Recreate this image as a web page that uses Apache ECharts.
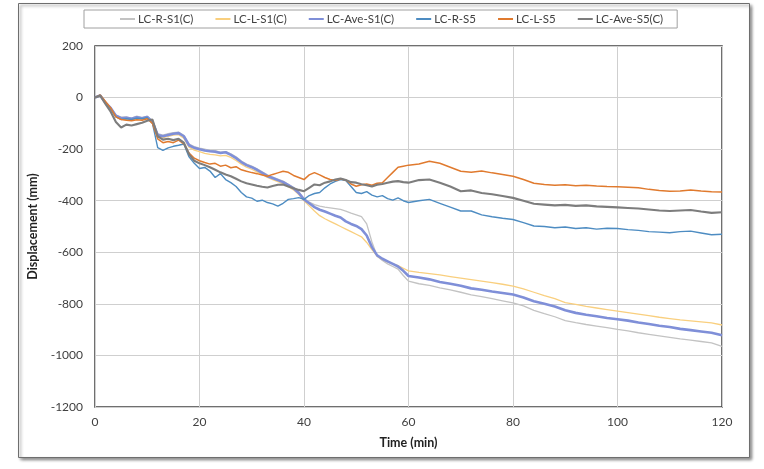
<!DOCTYPE html>
<html>
<head>
<meta charset="utf-8">
<script src="https://cdn.jsdelivr.net/npm/echarts@6/dist/echarts.min.js"></script>
<style>html,body{margin:0;padding:0;background:#fff;}#c{width:764px;height:469px;}</style>
</head>
<body>
<div id="c"></div>
<script>
const seriesNames = ['LC-R-S1(C)', 'LC-L-S1(C)', 'LC-Ave-S1(C)', 'LC-R-S5', 'LC-L-S5', 'LC-Ave-S5(C)'];
const time = [0,1,2,3,4,5,6,7,8,9,10,11,12,13,14,15,16,17,18,19,20,21,22,23,24,25,26,27,28,29,30,31,32,33,34,35,36,37,38,39,40,41,42,43,44,45,46,47,48,49,50,51,52,53,54,55,56,57,58,59,60,62,64,66,68,70,72,74,76,78,80,82,84,86,88,90,92,94,96,98,100,102,104,106,108,110,112,114,116,118,120];
const rS1 = [0,6,-18,-38,-68,-76,-75,-80,-72,-78,-72,-90,-140,-146,-140,-136,-134,-146,-180,-190,-196,-200,-205,-206,-212,-210,-218,-230,-246,-258,-266,-276,-288,-300,-308,-316,-324,-336,-348,-366,-392,
  -405,-415,-421,-425,-428,-431,-434,-440,-448,-455,-462,-490,-560,-615,-632,-645,-655,-665,-690,-712,
  -722,-728,-738,-746,-755,-765,-772,-780,-788,-796,-808,-825,-838,-850,-865,-873,-880,-886,-892,-899,-905,-912,-918,-924,-930,-936,-941,-946,-951,-965];
const lS1 = [0,5,-22,-44,-74,-84,-82,-86,-80,-84,-80,-100,-150,-156,-150,-146,-144,-158,-192,-204,-210,-216,-220,-222,-226,-224,-232,-244,-258,-270,-278,-288,-298,-310,-318,-326,-334,-346,-358,-376,-400,
  -420,-440,-458,-470,-480,-490,-500,-510,-520,-530,-540,-562,-590,-615,-628,-637,-645,-652,-662,-672,
  -678,-683,-688,-694,-700,-706,-712,-718,-724,-731,-742,-755,-768,-780,-795,-802,-810,-816,-822,-828,-834,-840,-846,-852,-857,-862,-866,-870,-874,-882];
const aveS1 = [0,8,-20,-40,-70,-80,-78,-82,-76,-80,-75,-95,-145,-150,-145,-140,-138,-150,-185,-195,-200,-205,-208,-210,-215,-212,-222,-235,-250,-262,-270,-280,-292,-305,-312,-320,-328,-340,-352,-370,-395,
  -410,-425,-435,-442,-450,-458,-465,-480,-490,-498,-510,-535,-580,-612,-625,-635,-645,-655,-672,-692,
  -698,-705,-715,-722,-730,-740,-745,-752,-758,-764,-775,-790,-800,-810,-825,-835,-842,-848,-855,-860,-865,-872,-878,-885,-890,-897,-902,-907,-912,-922];
const rS5 = [0,8,-20,-45,-75,-85,-82,-85,-80,-82,-78,-100,-194,-205,-195,-189,-185,-180,-230,-255,-275,-271,-285,-310,-295,-318,-330,-345,-368,-385,-390,-402,-398,-407,-412,-421,-410,-395,-392,-388,-395,
  -380,-372,-368,-350,-335,-325,-318,-322,-345,-368,-372,-365,-378,-385,-380,-392,-398,-389,-400,-407,
  -400,-395,-410,-425,-440,-440,-455,-462,-468,-473,-485,-498,-500,-505,-502,-508,-505,-510,-507,-508,-512,-515,-520,-522,-524,-520,-518,-525,-532,-530];
const lS5 = [0,10,-15,-40,-75,-85,-88,-90,-86,-88,-82,-100,-160,-175,-170,-175,-165,-180,-215,-235,-245,-252,-258,-255,-266,-262,-272,-268,-280,-286,-291,-295,-300,-305,-298,-292,-286,-290,-302,-310,-318,
  -300,-291,-300,-310,-318,-322,-316,-320,-335,-344,-338,-335,-340,-332,-330,-310,-290,-270,-266,-262,
  -258,-247,-255,-270,-286,-290,-285,-292,-298,-305,-318,-332,-337,-340,-338,-342,-340,-343,-345,-346,-348,-350,-356,-360,-363,-362,-358,-362,-365,-366];
const aveS5 = [0,8,-25,-55,-95,-116,-105,-108,-103,-98,-90,-85,-150,-163,-160,-165,-160,-175,-220,-245,-255,-262,-270,-280,-290,-298,-305,-315,-325,-332,-337,-342,-346,-349,-343,-338,-337,-345,-352,-358,-363,
  -350,-337,-340,-330,-325,-318,-314,-320,-328,-330,-336,-340,-345,-338,-335,-330,-326,-324,-328,-330,
  -320,-318,-330,-345,-363,-360,-370,-375,-382,-389,-400,-412,-415,-418,-416,-420,-418,-422,-424,-426,-428,-430,-434,-438,-440,-438,-436,-442,-447,-445];

const allValues = [rS1, lS1, aveS1, rS5, lS5, aveS5];
const colors = ['#c3c3c3', '#f9cf7e', '#7f8fd8', '#4d8cc2', '#e07a2e', '#7d7d7d'];
const widths = [1.3, 1.3, 2.6, 1.4, 1.5, 2.1];
const FONT = 'Lato, "Liberation Sans", sans-serif';

const chart = echarts.init(document.getElementById('c'));
chart.setOption({
  animation: false,
  backgroundColor: '#fff',
  graphic: [{
    type: 'rect', left: 18, top: 3, z: -10,
    shape: { width: 731, height: 454 },
    style: { fill: '#fff', stroke: '#6e6e6e', lineWidth: 1, shadowBlur: 3, shadowOffsetX: 2, shadowOffsetY: 2, shadowColor: 'rgba(0,0,0,0.45)' }
  }],
  legend: {
    left: 84, top: 10,
    padding: [3, 14, 3, 36],
    borderColor: '#a0a0a0', borderWidth: 1,
    icon: 'rect',
    itemWidth: 15, itemHeight: 2, itemGap: 22,
    textStyle: { fontFamily: FONT, fontSize: 11.5, color: '#404040', padding: [0, 0, 0, -2] },
    data: seriesNames
  },
  grid: { left: 95, right: 42, top: 46, bottom: 62, show: true, borderColor: '#404040', borderWidth: 1.5 },
  xAxis: {
    type: 'value', min: 0, max: 120, interval: 20,
    name: 'Time (min)', nameLocation: 'middle', nameGap: 29,
    nameTextStyle: { fontFamily: FONT, fontSize: 12.5, fontWeight: 'bold', color: '#222' },
    axisLine: { show: false }, axisTick: { show: false },
    axisLabel: { fontFamily: FONT, fontSize: 12, color: '#404040', margin: 9 },
    splitLine: { lineStyle: { color: '#cfcfcf', width: 1 } }
  },
  yAxis: {
    type: 'value', min: -1200, max: 200, interval: 200,
    name: 'Displacement (mm)', nameLocation: 'middle', nameGap: 48,
    nameTextStyle: { fontFamily: FONT, fontSize: 12.5, fontWeight: 'bold', color: '#222' },
    axisLine: { show: false }, axisTick: { show: false },
    axisLabel: { fontFamily: FONT, fontSize: 12, color: '#404040', margin: 12, formatter: v => String(v) },
    splitLine: { lineStyle: { color: '#cfcfcf', width: 1 } }
  },
  series: seriesNames.map((n, i) => ({
    name: n, type: 'line', symbol: 'none',
    data: time.map((t, k) => [t, allValues[i][k]]),
    lineStyle: { color: colors[i], width: widths[i] },
    itemStyle: { color: colors[i] }
  }))
});
</script>
</body>
</html>
